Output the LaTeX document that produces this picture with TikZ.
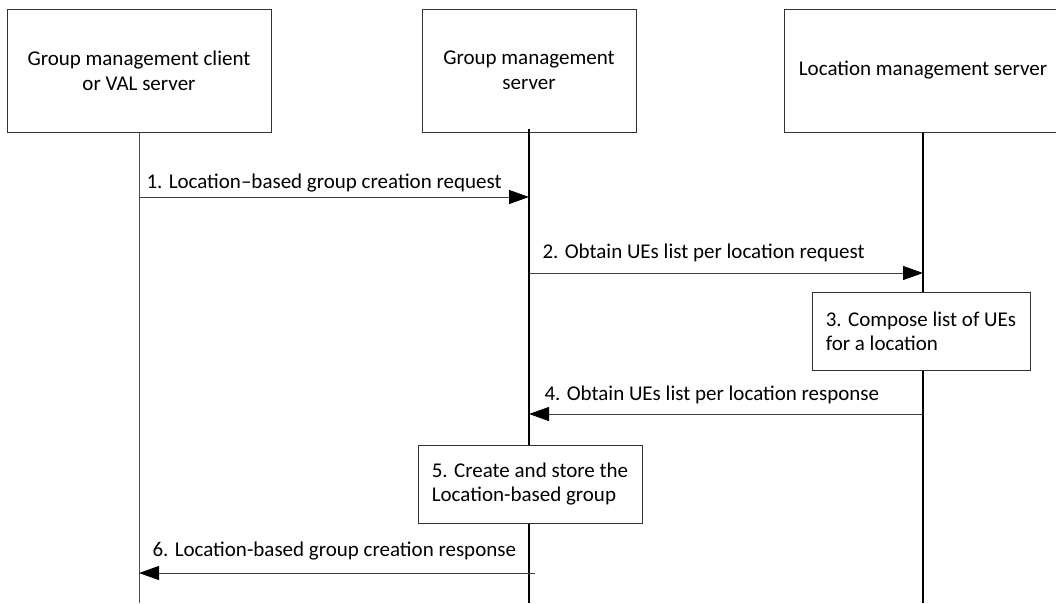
\documentclass[tikz,border=0pt]{standalone}
\usepackage{fontspec}
\setmainfont{Carlito}
\usetikzlibrary{arrows.meta,positioning}

\begin{document}
\begin{tikzpicture}[x=1pt, y=-1pt,
    % Styles for the entities
    entity/.style={
        rectangle,
        draw=black!80,
        line width=1pt,
        fill=white,
        align=center,
        minimum height=123pt,
        font=\fontsize{21}{25}\selectfont
    },
    % Styles for the actions
    action/.style={
        rectangle,
        draw=black!80,
        line width=1pt,
        fill=white,
        align=left,
        minimum height=78pt,
        font=\fontsize{21}{24}\selectfont
    },
    % Styles for the lifelines
    lifeline/.style={line width=1pt, color=black!70},
    % Styles for the messages
    msg/.style={-{Triangle[length=20pt, width=14pt, color=black]}, line width=1pt, color=black!75},
    % Styles for the labels
    msglabel/.style={font=\fontsize{21}{25}\selectfont, text=black, inner sep=0pt, anchor=base west}
]

\useasboundingbox (0,0) rectangle (1056,603);
\coordinate (bottom) at (0,603);

% Entities
\node[entity, minimum width=264pt] (client) at (139,70.5) {Group management client\\or VAL server};
\node[entity, minimum width=214pt] (gms) at (529,70.5) {Group management\\server};
\node[entity, minimum width=278pt] (lms) at (923,70.5) {Location management server};

% Lifelines
\draw[lifeline] (client.south) -- (client.south |- bottom);
\draw[lifeline, line width=2pt, black] ([yshift=4pt]gms.south) -- (gms.south |- bottom);
\draw[lifeline, line width=1.5pt, black] (lms.south) -- (lms.south |- bottom);

% Actions
\node[action, minimum width=218pt] (compose) at (921,331) {3. Compose list of UEs\\for a location};
\node[action, minimum width=224pt] (store) at (530,484) {5. Create and store the\\Location-based group};

% Messages
\coordinate (gmsout) at ([xshift=6pt]gms.south);
\draw[msg] (client |- 0,197) -- (gms |- 0,197)
    node[msglabel, pos=0, xshift=7pt, yshift=9pt] {1. Location--based group creation request};
\draw[msg] (gms |- 0,273) -- (lms |- 0,273)
    node[msglabel, pos=0, xshift=13pt, yshift=15pt] {2. Obtain UEs list per location request};
\draw[msg] (lms |- 0,414) -- (gms |- 0,414)
    node[msglabel, pos=1, xshift=15pt, yshift=14pt] {4. Obtain UEs list per location response};
\draw[msg] (gmsout |- 0,573) -- (client |- 0,573)
    node[msglabel, pos=1, xshift=13pt, yshift=17pt] {6. Location-based group creation response};

\end{tikzpicture}
\end{document}
